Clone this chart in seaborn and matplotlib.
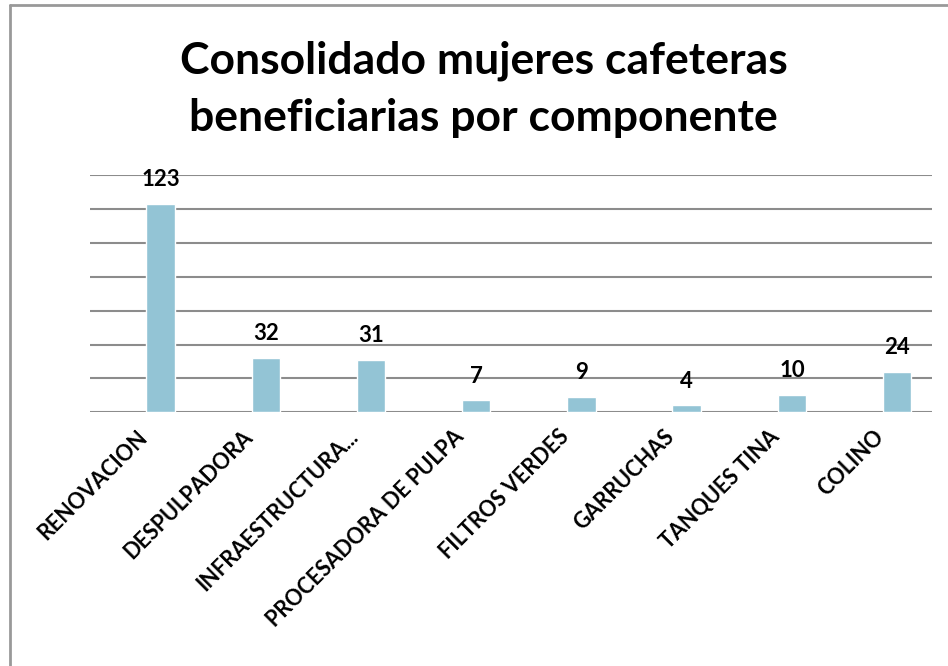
import pandas as pd
import numpy as np
import matplotlib.pyplot as plt
import matplotlib.transforms as mtransforms
import seaborn as sns

# ---------------------------------------------------
# Data
# ---------------------------------------------------
componentes = ["RENOVACION", "DESPULPADORA", "INFRAESTRUCTURA...",
               "PROCESADORA DE PULPA", "FILTROS VERDES", "GARRUCHAS",
               "TANQUES TINA", "COLINO"]
mujeres = [123, 32, 31, 7, 9, 4, 10, 24]
y_ticks = [0, 20, 40, 60, 80, 100, 120, 140]

df = pd.DataFrame({"componente": componentes, "mujeres": mujeres})

# ---------------------------------------------------
# Style
# ---------------------------------------------------
sns.set_style("white")
plt.rcParams["font.family"] = ["Lato", "DejaVu Sans"]
plt.rcParams["text.color"] = "black"

fig = plt.figure(figsize=(9.48, 6.66), dpi=100)
ax = fig.add_axes([0.095, 0.381, 0.888, 0.356])

sns.barplot(x="componente", y="mujeres", data=df, color="#93C4D5",
            width=0.27, saturation=1, ax=ax)

# value labels
for i, v in enumerate(mujeres):
    ax.annotate(str(v), (i, v), xytext=(0, 10), textcoords="offset points",
                ha="center", va="bottom", fontsize=16, fontweight="bold",
                color="black")

ax.set_ylim(0, 140)
ax.set_yticks(y_ticks)
ax.set_yticklabels([])
ax.tick_params(axis="y", length=0)
ax.yaxis.grid(True, color="#8c8c8c", linewidth=1.5)
ax.set_axisbelow(True)
ax.set_xlim(-0.67, 7.33)
for s in ax.spines.values():
    s.set_visible(False)

ax.set_xlabel("")
ax.set_ylabel("")
ax.tick_params(axis="x", length=0, pad=10)
ax.set_xticks(range(len(componentes)))
ax.set_xticklabels(componentes, rotation=45, ha="right",
                   rotation_mode="anchor", fontsize=15.5, fontweight="bold",
                   color="black")
shift = mtransforms.ScaledTranslation(-17 / 72, 0, fig.dpi_scale_trans)
for lbl in ax.get_xticklabels():
    lbl.set_transform(lbl.get_transform() + shift)

# title
fig.text(0.51, 0.866, "Consolidado mujeres cafeteras\nbeneficiarias por componente",
         ha="center", va="center", fontsize=32, fontweight="bold",
         linespacing=1.5, color="black")

# frame lines (top and left)
fig.add_artist(plt.Line2D([0.0106, 0.0106], [0, 0.992], color="#999999",
                          linewidth=2, transform=fig.transFigure))
fig.add_artist(plt.Line2D([0.0106, 1.0], [0.992, 0.992], color="#999999",
                          linewidth=2, transform=fig.transFigure))

plt.savefig("out.png", dpi=100)
